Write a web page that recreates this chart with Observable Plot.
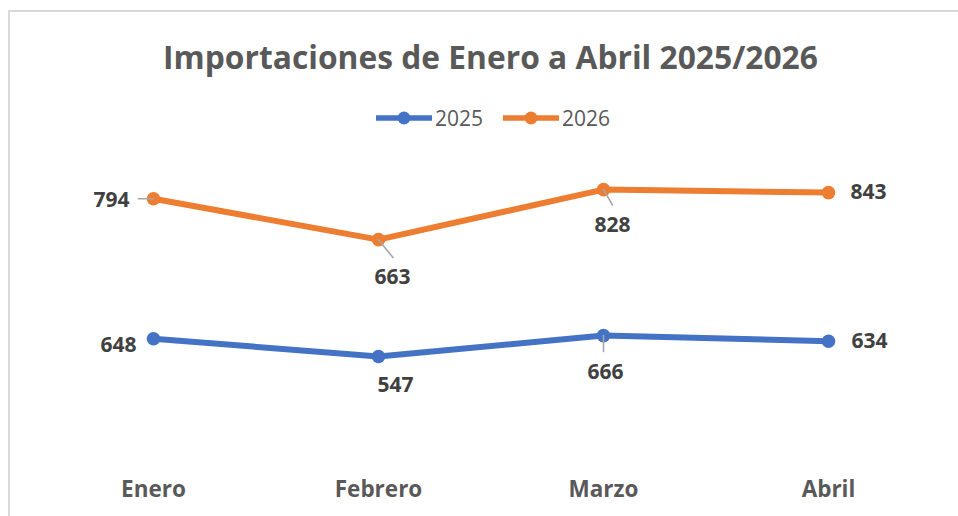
<!DOCTYPE html>
<html>
<head>
<meta charset="utf-8">
<script src="https://cdn.jsdelivr.net/npm/d3@7"></script>
<script src="https://cdn.jsdelivr.net/npm/@observablehq/plot@0.6"></script>
<style>
  body { margin: 0; background: #fff; font-family: "Open Sans", sans-serif; }
  #wrap { position: relative; width: 958px; height: 516px; overflow: hidden; background: #fff; }
  #frame { position: absolute; left: 8px; top: 10px; width: 1000px; height: 600px; border: 2px solid #d9d9d9; box-sizing: border-box; }
  #title { position: absolute; left: 0; width: 981px; top: 38px; text-align: center; font-weight: 700; color: #595959; white-space: nowrap; line-height: 38px; }
  #legend { position: absolute; left: 376px; top: 104px; height: 28px; display: flex; align-items: center; color: #595959; font-size: 21px; }
  #legend .item { display: flex; align-items: center; margin-right: 20px; }
  #legend svg { display: block; margin-right: 3px; }
  #chart { position: absolute; left: 0; top: 140px; }
</style>
</head>
<body>
<div id="wrap">
  <div id="frame"></div>
  <div id="title"></div>
  <div id="legend"></div>
  <div id="chart"></div>
</div>
<script>
// ---- data ----
const titleText = "Importaciones de Enero a Abril 2025/2026";
const months = ["Enero", "Febrero", "Marzo", "Abril"];
const seriesNames = ["2025", "2026"];
const values2025 = [648, 547, 666, 634];
const values2026 = [794, 663, 828, 843];
const seriesColors = ["#4472C4", "#ED7D31"];

// ---- label placement (style only) ----
// [textAnchor, dx, dy, leaderRotate, leaderLength]
const labelLayout2025 = [
  ["end", -17, 7, null, 0],
  ["middle", 17, 29, null, 0],
  ["middle", 2, 37, 180, 16],
  ["start", 23, 0, null, 0]
];
const labelLayout2026 = [
  ["end", -24, 2, 270, 15],
  ["middle", 14, 38, 141, 23],
  ["middle", 9, 36, 150, 18],
  ["start", 22, 0, null, 0]
];

// Stacked line chart: each series is drawn on top of the previous
const seriesValues = [values2025, values2026];
const layouts = [labelLayout2025, labelLayout2026];
const rows = [];
seriesNames.forEach((s, i) => {
  months.forEach((m, j) => {
    let cum = 0;
    for (let k = 0; k <= i; k++) cum += seriesValues[k][j];
    rows.push({series: s, month: m, value: seriesValues[i][j], cum, layout: layouts[i][j]});
  });
});

// ---- title (fit width) ----
const titleEl = document.getElementById("title");
titleEl.textContent = titleText;
{
  const ctx = document.createElement("canvas").getContext("2d");
  ctx.font = '700 30px "Open Sans"';
  const w = ctx.measureText(titleText).width;
  const size = Math.max(24, Math.min(34, 30 * 655 / w));
  titleEl.style.fontSize = size + "px";
}

// ---- legend ----
const legendEl = document.getElementById("legend");
seriesNames.forEach((s, i) => {
  const item = document.createElement("div");
  item.className = "item";
  item.innerHTML = `<svg width="56" height="16"><line x1="1" y1="8" x2="55" y2="8" stroke="${seriesColors[i]}" stroke-width="5.5" stroke-linecap="round"/><circle cx="28" cy="8" r="6.5" fill="${seriesColors[i]}"/></svg><span>${s}</span>`;
  legendEl.appendChild(item);
});

// ---- chart ----
const leaderShape = {
  draw(context, l) { context.moveTo(0, 0); context.lineTo(0, -l); }
};
const labelMarks = [];
rows.forEach((r) => {
  const [anchor, dx, dy, rot, len] = r.layout;
  if (rot !== null) {
    labelMarks.push(Plot.vector([r], {
      x: "month", y: "cum", rotate: rot, length: len, anchor: "start",
      shape: leaderShape, stroke: "#a6a6a6", strokeWidth: 1.6
    }));
  }
});
rows.forEach((r) => {
  const [anchor, dx, dy] = r.layout;
  labelMarks.push(Plot.text([r], {
    x: "month", y: "cum", text: (d) => String(d.value),
    textAnchor: anchor, dx, dy, fill: "#404040",
    fontSize: 21, fontWeight: 700, fontFamily: "Open Sans"
  }));
});

const chart = Plot.plot({
  width: 958,
  height: 376,
  marginTop: 30.4,
  marginBottom: 63.5,
  marginLeft: 39.5,
  marginRight: 17.5,
  style: {background: "transparent", fontFamily: "Open Sans"},
  x: {type: "point", domain: months, padding: 0.5, axis: null, label: null},
  y: {domain: [0, 1600], axis: null},
  color: {domain: seriesNames, range: seriesColors},
  marks: [
    Plot.axisX({tickSize: 0, tickPadding: 28, label: null, fontSize: 22.5, fontWeight: 700, fill: "#595959", fontFamily: "Open Sans"}),
    Plot.line(rows, {x: "month", y: "cum", z: "series", stroke: "series", strokeWidth: 6, strokeLinejoin: "round", strokeLinecap: "round"}),
    Plot.dot(rows, {x: "month", y: "cum", fill: "series", r: 6.8}),
    ...labelMarks
  ]
});
document.getElementById("chart").appendChild(chart);
</script>
</body>
</html>
